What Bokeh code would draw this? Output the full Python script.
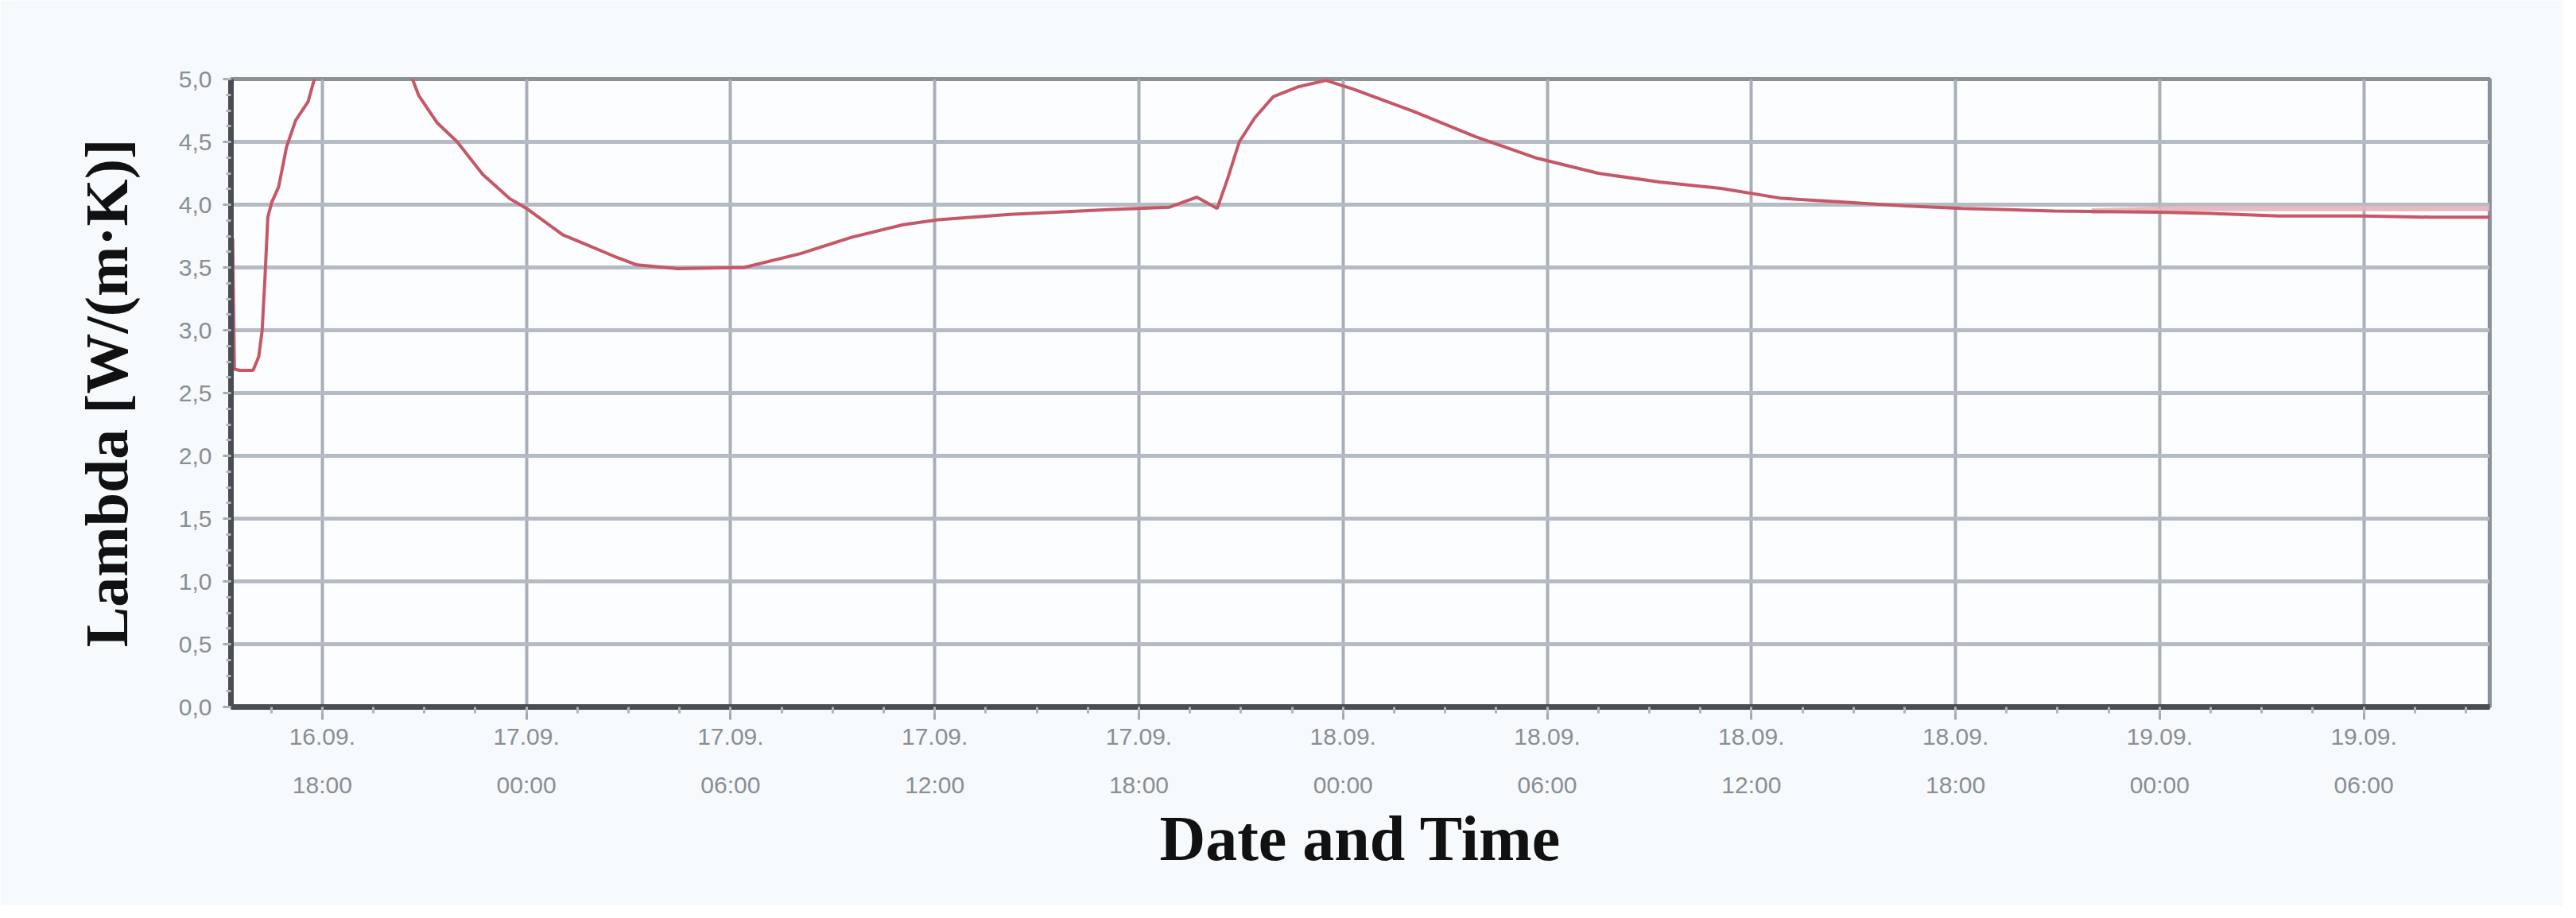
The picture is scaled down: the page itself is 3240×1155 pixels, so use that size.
import pandas as pd
from bokeh.plotting import figure
from bokeh.models import FixedTicker, Range1d
from bokeh.embed import file_html
from bokeh.resources import INLINE

# ---- data ----
times = [
    "2015-09-16 15:19", "2015-09-16 15:22", "2015-09-16 15:25", "2015-09-16 15:35",
    "2015-09-16 15:58", "2015-09-16 16:08", "2015-09-16 16:14", "2015-09-16 16:19",
    "2015-09-16 16:24", "2015-09-16 16:31", "2015-09-16 16:43", "2015-09-16 16:57",
    "2015-09-16 17:13", "2015-09-16 17:35", "2015-09-16 17:46", "2015-09-16 18:30",
    "2015-09-16 19:18", "2015-09-16 20:06", "2015-09-16 20:39", "2015-09-16 20:50",
    "2015-09-16 21:23", "2015-09-16 21:58", "2015-09-16 22:43", "2015-09-16 23:30",
    "2015-09-17 00:00", "2015-09-17 01:04", "2015-09-17 01:36", "2015-09-17 02:34",
    "2015-09-17 03:15", "2015-09-17 04:27", "2015-09-17 06:24", "2015-09-17 08:03",
    "2015-09-17 09:33", "2015-09-17 11:04", "2015-09-17 12:06", "2015-09-17 14:03",
    "2015-09-17 15:33", "2015-09-17 17:06", "2015-09-17 18:54", "2015-09-17 19:42",
    "2015-09-17 20:18", "2015-09-17 20:36", "2015-09-17 20:57", "2015-09-17 21:24",
    "2015-09-17 21:57", "2015-09-17 22:42", "2015-09-17 23:30", "2015-09-18 00:18",
    "2015-09-18 02:06", "2015-09-18 03:54", "2015-09-18 05:42", "2015-09-18 07:30",
    "2015-09-18 09:18", "2015-09-18 11:06", "2015-09-18 12:54", "2015-09-18 14:42",
    "2015-09-18 16:30", "2015-09-18 18:12", "2015-09-18 20:54", "2015-09-19 00:00",
    "2015-09-19 01:30", "2015-09-19 03:30", "2015-09-19 06:00", "2015-09-19 08:00",
    "2015-09-19 09:42",
]
lam = [
    1.55, 3.73, 2.69, 2.68,
    2.68, 2.79, 3.00, 3.42,
    3.90, 4.02, 4.14, 4.46,
    4.67, 4.82, 5.00, 5.45,
    5.60, 5.30, 5.00, 4.87,
    4.65, 4.50, 4.24, 4.05,
    3.97, 3.76, 3.70, 3.59,
    3.52, 3.49, 3.50, 3.61,
    3.74, 3.84, 3.88, 3.92,
    3.94, 3.96, 3.98, 4.06,
    3.97, 4.20, 4.50, 4.69,
    4.86, 4.94, 4.99, 4.92,
    4.74, 4.54, 4.37, 4.25,
    4.18, 4.13, 4.05, 4.02,
    3.99, 3.97, 3.95, 3.94,
    3.93, 3.91, 3.91, 3.90,
    3.90,
]
band_times = ["2015-09-18 22:00", "2015-09-19 01:00", "2015-09-19 09:42"]
band_lam = [3.95, 3.97, 3.97]

x_tick_times = [
    "2015-09-16 18:00", "2015-09-17 00:00", "2015-09-17 06:00", "2015-09-17 12:00",
    "2015-09-17 18:00", "2015-09-18 00:00", "2015-09-18 06:00", "2015-09-18 12:00",
    "2015-09-18 18:00", "2015-09-19 00:00", "2015-09-19 06:00",
]
x_tick_labels = [
    "16.09.\n18:00", "17.09.\n00:00", "17.09.\n06:00", "17.09.\n12:00",
    "17.09.\n18:00", "18.09.\n00:00", "18.09.\n06:00", "18.09.\n12:00",
    "18.09.\n18:00", "19.09.\n00:00", "19.09.\n06:00",
]
y_tick_values = [0.0, 0.5, 1.0, 1.5, 2.0, 2.5, 3.0, 3.5, 4.0, 4.5, 5.0]
y_tick_labels = ["0,0", "0,5", "1,0", "1,5", "2,0", "2,5", "3,0", "3,5", "4,0", "4,5", "5,0"]
x_start, x_end = "2015-09-16 15:19", "2015-09-19 09:42"


def ms(s):
    return int(pd.Timestamp(s).value // 10**6)


x_ms = [ms(t) for t in times]
band_ms = [ms(t) for t in band_times]
xt = [ms(t) for t in x_tick_times]
x_minor = [ms(t) for t in pd.date_range("2015-09-16 15:00", "2015-09-19 10:30", freq="90min")]
y_minor = [i * 0.125 for i in range(41)]

W, H = 3224, 1139
p = figure(width=W, height=H, x_axis_type="datetime",
           x_range=Range1d(ms(x_start), ms(x_end)), y_range=Range1d(0, 5),
           output_backend="svg", toolbar_location=None,
           min_border_left=290, min_border_right=93,
           min_border_top=99, min_border_bottom=250)

p.background_fill_color = "#fbfdfe"
p.border_fill_color = "#f6fafc"
p.outline_line_color = "#8b9199"
p.outline_line_width = 5

# grids
p.xgrid.grid_line_color = "#a9afb8"
p.xgrid.grid_line_width = 4
p.ygrid.grid_line_color = "#b5bbc4"
p.ygrid.grid_line_width = 5

# x axis
p.xaxis.ticker = FixedTicker(ticks=xt, minor_ticks=x_minor)
p.xaxis.major_label_overrides = {t: lab for t, lab in zip(xt, x_tick_labels)}
p.xaxis.axis_label = "Date and Time"
p.xaxis.axis_label_standoff = 4
p.xaxis.major_tick_out = 16
p.xaxis.major_tick_in = 0
p.xaxis.minor_tick_out = 8
p.xaxis.minor_tick_in = 0
p.xaxis.major_label_standoff = 4
p.xaxis.major_label_text_line_height = 1.85

# y axis
p.yaxis.ticker = FixedTicker(ticks=y_tick_values, minor_ticks=y_minor)
p.yaxis.major_label_overrides = {v: lab for v, lab in zip(y_tick_values, y_tick_labels)}
p.yaxis.axis_label = "Lambda [W/(m\u00b7K)]"
p.yaxis.axis_label_standoff = 46
p.yaxis.major_tick_out = 10
p.yaxis.major_tick_in = 0
p.yaxis.minor_tick_out = 6
p.yaxis.minor_tick_in = 0
p.yaxis.major_label_standoff = 14

for ax in (p.xaxis, p.yaxis):
    ax.axis_line_color = "#4a4d52"
    ax.axis_line_width = 7
    ax.major_tick_line_color = "#a4a9b0"
    ax.major_tick_line_width = 3
    ax.minor_tick_line_color = "#b0b5bb"
    ax.minor_tick_line_width = 3
    ax.major_label_text_font = "Liberation Sans"
    ax.major_label_text_font_size = "30px"
    ax.major_label_text_color = "#8a8e93"
    ax.axis_label_text_font = "Liberation Serif"
    ax.axis_label_text_font_style = "bold"
    ax.axis_label_text_color = "#111111"

p.xaxis.axis_label_text_font_size = "80px"
p.yaxis.axis_label_text_font_size = "76px"

# series
p.line(band_ms, band_lam, line_color="#e6b3bb", line_width=7, line_alpha=0.9)
p.line(x_ms, lam, line_color="#c65766", line_width=4)

open("out.html", "w").write(file_html(p, INLINE))
